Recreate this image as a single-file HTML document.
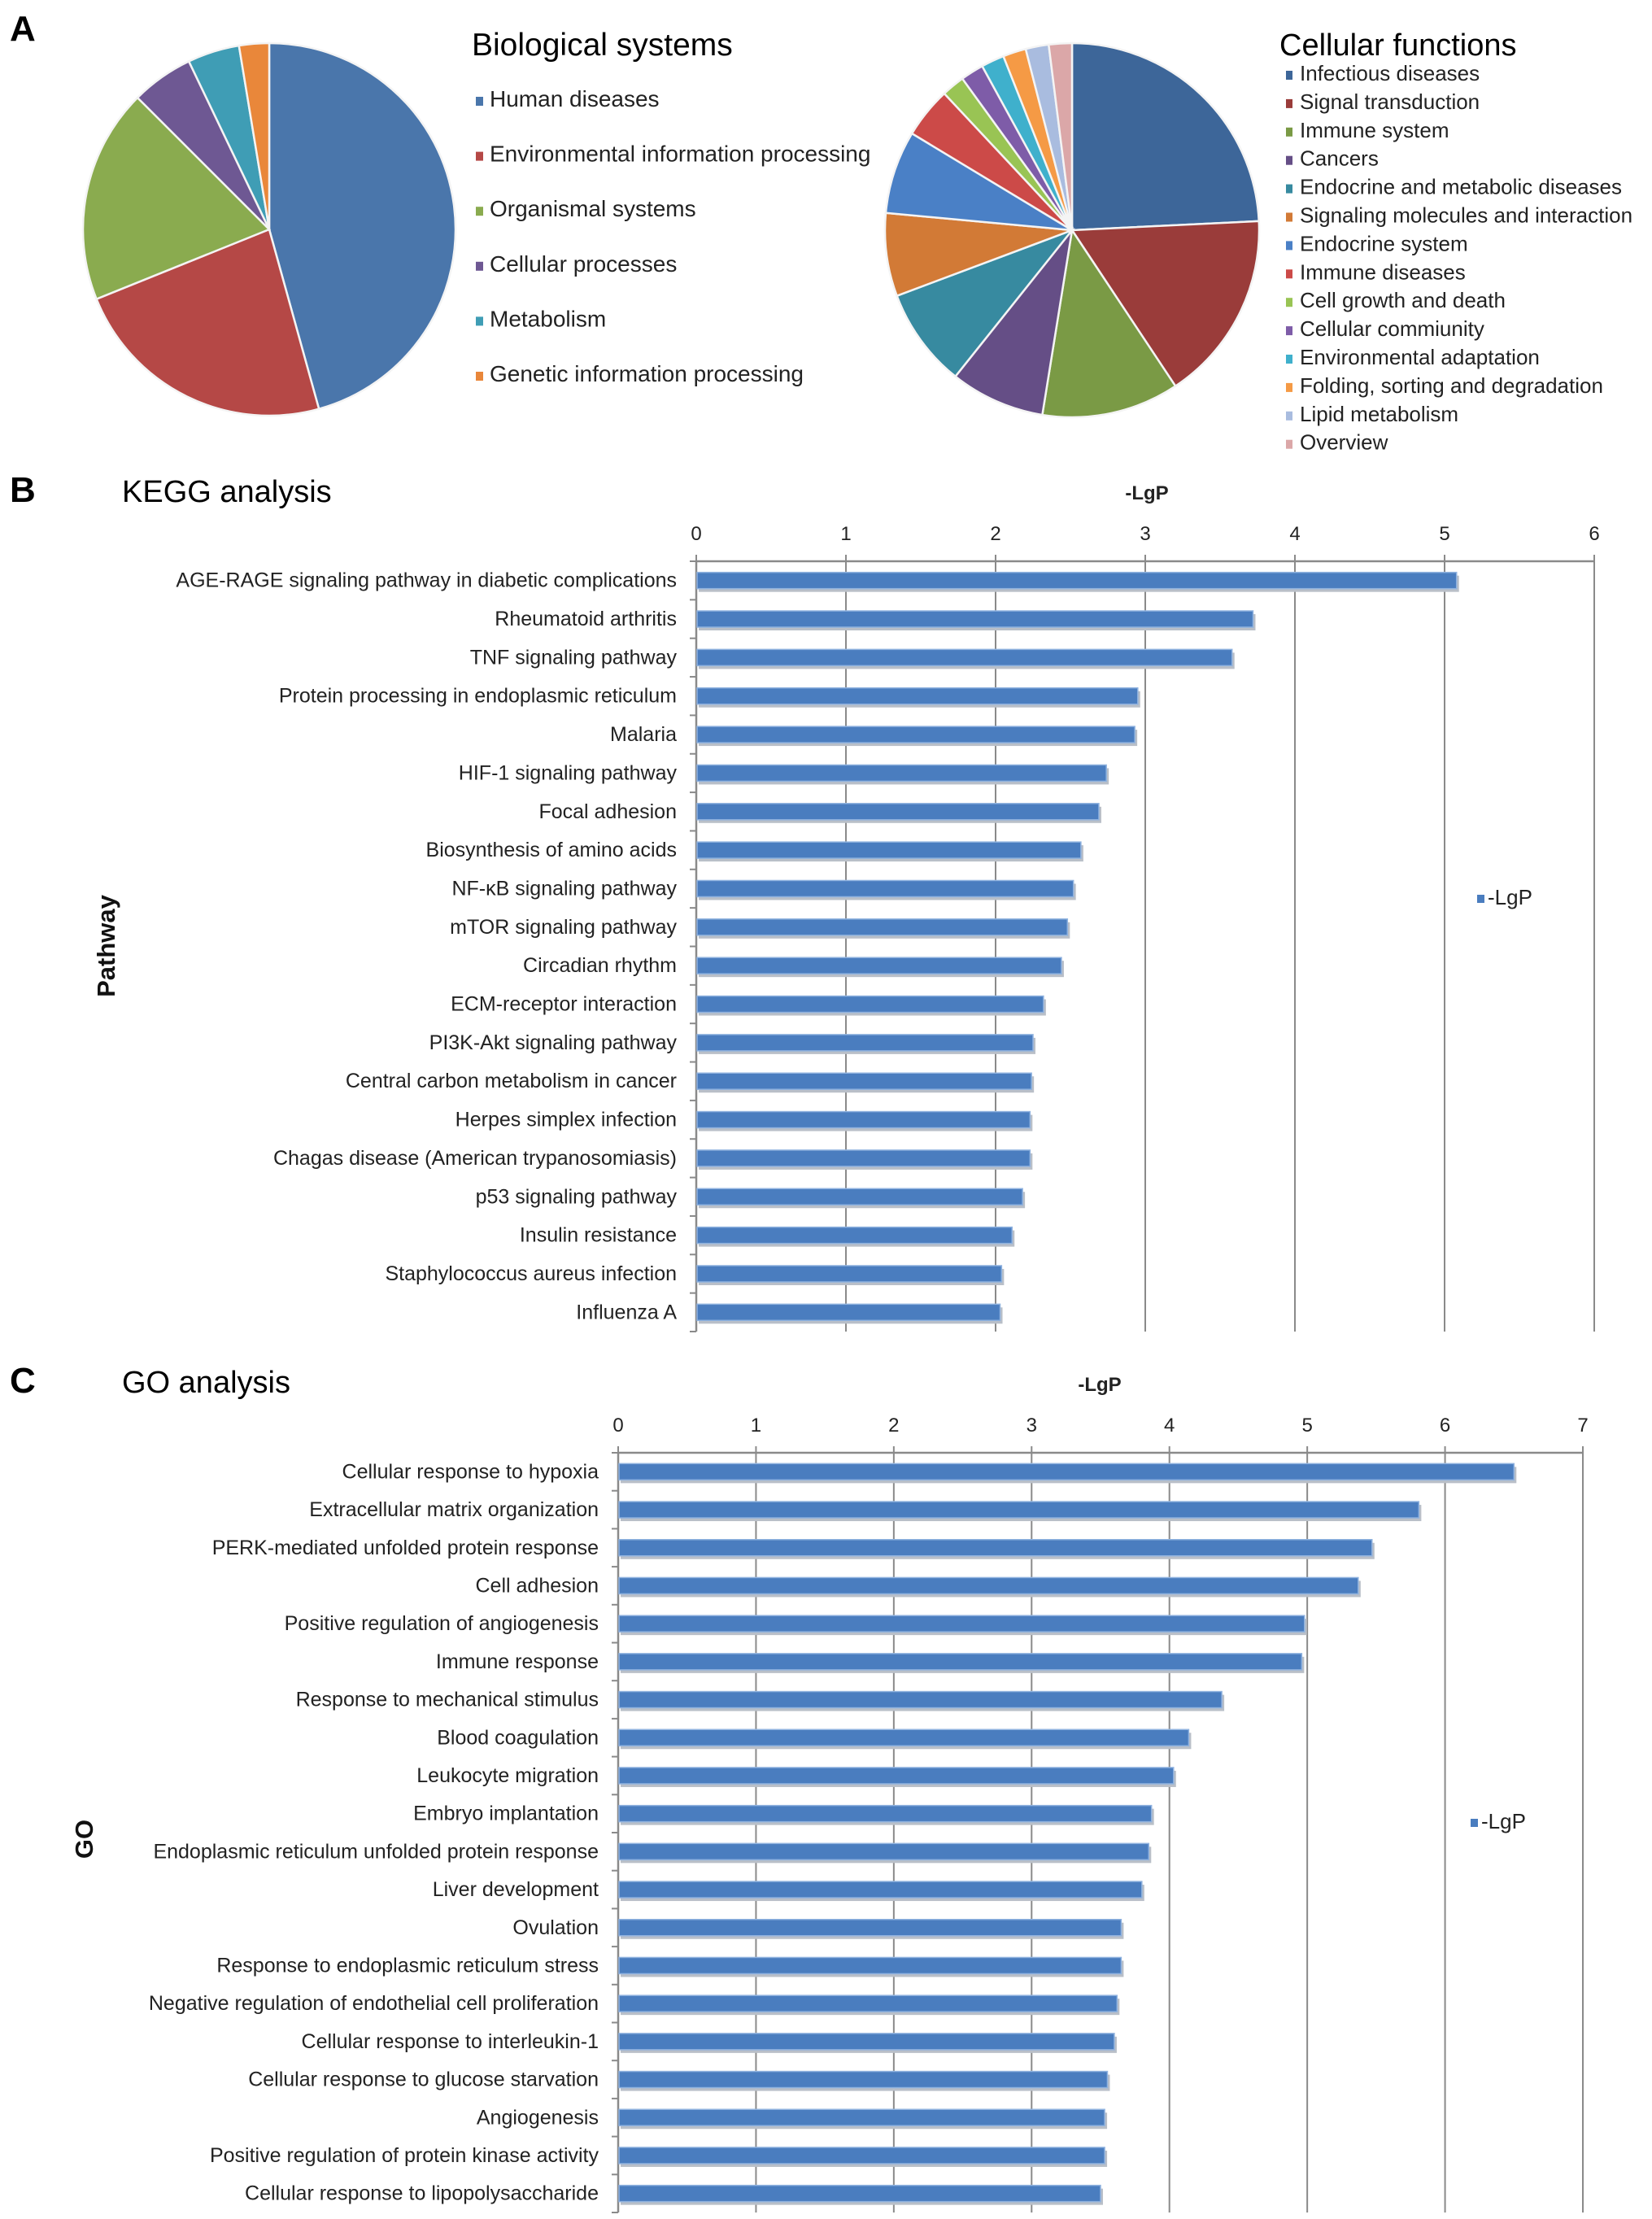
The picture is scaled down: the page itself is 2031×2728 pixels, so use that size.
<!DOCTYPE html>
<html><head><meta charset="utf-8"><style>
html,body{margin:0;padding:0;background:#fff;}
svg{display:block;font-family:"Liberation Sans",sans-serif;}
</style></head><body>
<svg id="fig" width="2031" height="2728" viewBox="0 0 2031 2728">
<text x="12" y="50" font-size="44" font-weight="bold">A</text>
<text x="12" y="617" font-size="44" font-weight="bold">B</text>
<text x="12" y="1712" font-size="44" font-weight="bold">C</text>
<text x="580" y="68" font-size="39">Biological systems</text>
<text x="1573" y="68" font-size="38">Cellular functions</text>
<text x="150" y="617" font-size="38">KEGG analysis</text>
<text x="150" y="1712" font-size="38">GO analysis</text>
<g id="pieA"></g><g id="pieB"></g><g id="kegg"></g><g id="go"></g>
</svg>
<script>
const NS="http://www.w3.org/2000/svg";
function mk(t,a,p){const e=document.createElementNS(NS,t);for(const k in a)e.setAttribute(k,a[k]);p.appendChild(e);return e;}

// ---- Pie data ----
const bioLabels=["Human diseases","Environmental information processing","Organismal systems","Cellular processes","Metabolism","Genetic information processing"];
const bioValues=[45.7,23.2,18.6,5.4,4.5,2.6];
const bioColors=["#4a76ab","#b54846","#8aab4f","#6e5893","#3f9db5","#e9873a"];
const cellLabels=["Infectious diseases","Signal transduction","Immune system","Cancers","Endocrine and metabolic diseases","Signaling molecules and interaction","Endocrine system","Immune diseases","Cell growth and death","Cellular commiunity","Environmental adaptation","Folding, sorting and degradation","Lipid metabolism","Overview"];
const cellValues=[24.3,16.5,11.9,8.2,8.6,7.2,7.2,4.4,2.0,2.0,2.0,2.0,2.0,2.0];
const cellColors=["#3d6699","#9a3c3a","#7a9a45","#654e86","#378aa0","#d27a36","#4a80c6","#cc4a48","#99c454","#7e5ca8","#3fb0cc","#f59a45","#a9bcdf","#dba7a8"];

function pie(g,labels,vals,cols,cx,cy,r,name){
  const tot=vals.reduce((a,b)=>a+b,0);let a0=0;
  vals.forEach((v,i)=>{
    const a1=a0+v/tot*2*Math.PI;
    const x0=cx+r*Math.sin(a0),y0=cy-r*Math.cos(a0),x1=cx+r*Math.sin(a1),y1=cy-r*Math.cos(a1);
    const p=mk("path",{d:`M${cx},${cy}L${x0},${y0}A${r},${r} 0 ${a1-a0>Math.PI?1:0} 1 ${x1},${y1}Z`,fill:cols[i],stroke:"#f4f4f4","stroke-width":2.5},g);
    
    
    a0=a1;
  });
}
pie(document.getElementById("pieA"),bioLabels,bioValues,bioColors,331,282,229,"bio");
pie(document.getElementById("pieB"),cellLabels,cellValues,cellColors,1318,283,230,"cell");

const gA=document.getElementById("pieA");
bioLabels.forEach((l,i)=>{
  const y=127+i*67.6;
  const s=mk("rect",{x:585,y:y-8,width:9,height:11,fill:bioColors[i]},gA);
  
  
  const t=mk("text",{x:602,y:y+4,"font-size":28,fill:"#222"},gA);t.textContent=l;
  
  
});
const gB=document.getElementById("pieB");
cellLabels.forEach((l,i)=>{
  const y=95+i*34.9;
  const s=mk("rect",{x:1581,y:y-8,width:8,height:11,fill:cellColors[i]},gB);
  
  
  const t=mk("text",{x:1598,y:y+4,"font-size":26,fill:"#222"},gB);t.textContent=l;
  
  
});

// ---- Bar data ----
const keggCats=["AGE-RAGE signaling pathway  in diabetic complications","Rheumatoid arthritis","TNF signaling pathway","Protein processing in endoplasmic reticulum","Malaria","HIF-1 signaling pathway","Focal adhesion","Biosynthesis of amino acids","NF-κB signaling pathway","mTOR signaling pathway","Circadian rhythm","ECM-receptor interaction","PI3K-Akt signaling pathway","Central carbon metabolism in cancer","Herpes simplex infection","Chagas disease (American trypanosomiasis)","p53 signaling pathway","Insulin resistance","Staphylococcus aureus infection","Influenza A"];
const keggValues=[5.08,3.72,3.58,2.95,2.93,2.74,2.69,2.57,2.52,2.48,2.44,2.32,2.25,2.24,2.23,2.23,2.18,2.11,2.04,2.03];
const keggTicks=[0,1,2,3,4,5,6];
const goCats=["Cellular response to hypoxia","Extracellular matrix organization","PERK-mediated unfolded protein response","Cell adhesion","Positive regulation of angiogenesis","Immune response","Response to mechanical  stimulus","Blood coagulation","Leukocyte migration","Embryo implantation","Endoplasmic reticulum unfolded protein response","Liver development","Ovulation","Response to endoplasmic reticulum stress","Negative regulation of endothelial cell proliferation","Cellular response to interleukin-1","Cellular response to glucose starvation","Angiogenesis","Positive regulation of protein kinase activity","Cellular response to lipopolysaccharide"];
const goValues=[6.50,5.81,5.47,5.37,4.98,4.96,4.38,4.14,4.03,3.87,3.85,3.80,3.65,3.65,3.62,3.60,3.55,3.53,3.53,3.50];
const goTicks=[0,1,2,3,4,5,6,7];

function bars(g,cats,vals,ticks,o){
  const max=ticks[ticks.length-1];
  const xs=v=>o.x0+v/max*(o.x1-o.x0);
  const step=(o.yb-o.yt)/cats.length;
  const yc=i=>o.yt+step*(i+0.5);
  ticks.forEach(t=>{
    const l=mk("line",{x1:xs(t),x2:xs(t),y1:o.yt-8,y2:o.yb,stroke:"#8a8a8a","stroke-width":2},g);
    
    
    const tx=mk("text",{x:xs(t),y:o.yt-26,"font-size":24,"text-anchor":"middle",fill:"#222"},g);tx.textContent=t;
    
    
  });
  mk("line",{x1:o.x0,x2:o.x1,y1:o.yt,y2:o.yt,stroke:"#8a8a8a","stroke-width":2.5},g);
  mk("line",{x1:o.x0,x2:o.x0,y1:o.yt,y2:o.yb,stroke:"#8a8a8a","stroke-width":2.5},g);
  for(let i=0;i<=cats.length;i++) mk("line",{x1:o.x0-8,x2:o.x0,y1:o.yt+step*i,y2:o.yt+step*i,stroke:"#8a8a8a","stroke-width":2},g);
  cats.forEach((c,i)=>{
    const sh=mk("rect",{x:o.x0+3,y:yc(i)-o.bh/2+4,width:xs(vals[i])-o.x0,height:o.bh,fill:"#b9bfc8"},g);
    
    
    const b=mk("rect",{x:o.x0+1,y:yc(i)-o.bh/2,width:xs(vals[i])-o.x0-1,height:o.bh,fill:"#4a7dbf",stroke:"#8fb2df","stroke-width":1.5},g);
    
    
    const t=mk("text",{x:o.lx,y:yc(i)+8,"font-size":25,"text-anchor":"end",fill:"#222"},g);t.textContent=c;
    
    
  });
  const at=mk("text",{x:o.titleX,y:o.yt-76,"font-size":24,"font-weight":"bold","text-anchor":"middle",fill:"#222"},g);at.textContent="-LgP";
  
  
  const yt=mk("text",{transform:`translate(${o.ytx},${o.yty}) rotate(-90)`,"font-size":31,"font-weight":"bold","text-anchor":"middle",fill:"#111"},g);yt.textContent=o.ytitle;
  
  
  const ls=mk("rect",{x:o.legX,y:o.legY-8,width:9,height:10,fill:"#4a7dbf"},g);
  
  
  const lt=mk("text",{x:o.legX+13,y:o.legY+4,"font-size":26,fill:"#222"},g);lt.textContent="-LgP";
  
  
}
bars(document.getElementById("kegg"),keggCats,keggValues,keggTicks,{x0:856,x1:1960,yt:690,yb:1637,bh:20,lx:832,titleX:1410,ytitle:"Pathway",ytx:141,yty:1163,legX:1816,legY:1108});
bars(document.getElementById("go"),goCats,goValues,goTicks,{x0:760,x1:1946,yt:1786,yb:2720,bh:20,lx:736,titleX:1352,ytitle:"GO",ytx:114,yty:2261,legX:1808,legY:2244});
</script>
</body></html>
